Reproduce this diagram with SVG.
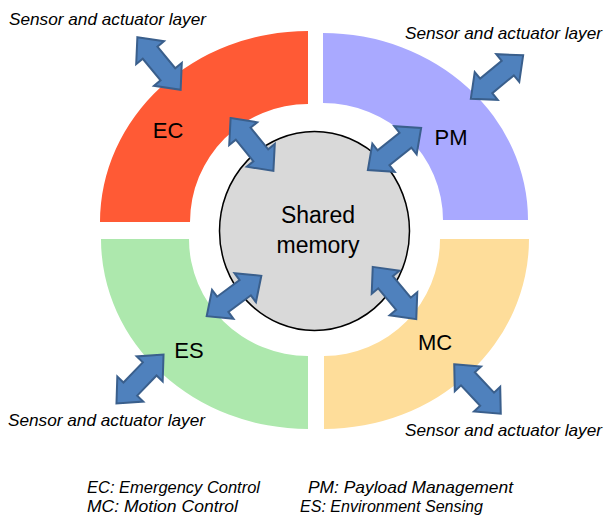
<svg xmlns="http://www.w3.org/2000/svg" xmlns:xlink="http://www.w3.org/1999/xlink" width="606" height="517" viewBox="0 0 606 517">
  <style>
    .label { font-family: "Liberation Sans", Arial, sans-serif; font-size: 22px; fill: #000; text-anchor: middle; }
    .layer { font-family: "Liberation Sans", Arial, sans-serif; font-size: 17px; font-style: italic; fill: #000; }
    .legend { font-family: "Liberation Sans", Arial, sans-serif; font-size: 16.5px; font-style: italic; fill: #000; }
    .arrow { fill: #4F81BD; stroke: #3A5F8C; stroke-width: 2; stroke-linejoin: miter; }
  </style>
  <defs>
    <!-- double-headed block arrow, centred on the origin, pointing along x -->
    <path id="dblArrow" d="M -34,0 L -14,-18 L -14,-9.5 L 14,-9.5 L 14,-18 L 34,0 L 14,18 L 14,9.5 L -14,9.5 L -14,18 Z"/>
  </defs>
  <rect width="606" height="517" fill="#FFFFFF"/>

  <!-- quarter ring segments -->
  <g id="node-EC">
    <path d="M 100,222 A 208 191 0 0 1 308,31 L 308,104 A 118 118 0 0 0 190,222 Z" fill="#FF5A35"/>
    <text class="label" x="168" y="138">EC</text>
  </g>
  <g id="node-PM">
    <path d="M 323,33 A 205 187 0 0 1 528,220 L 443,220 A 120 117 0 0 0 323,103 Z" fill="#A9A9FF"/>
    <text class="label" x="451" y="145">PM</text>
  </g>
  <g id="node-ES">
    <path d="M 101,239 A 207 190 0 0 0 308,429 L 308,356 A 119 117 0 0 1 189,239 Z" fill="#ADE8AD"/>
    <text class="label" x="189" y="358">ES</text>
  </g>
  <g id="node-MC">
    <path d="M 529,239 A 205 190 0 0 1 324,429 L 324,356 A 116 117 0 0 0 440,239 Z" fill="#FEDD9A"/>
    <text class="label" x="435" y="350">MC</text>
  </g>

  <!-- central shared memory -->
  <g id="node-shared-memory">
    <ellipse cx="314.5" cy="231" rx="95" ry="99.5" fill="#D9D9D9" stroke="#000" stroke-width="1.5"/>
    <text class="label" x="318" y="223" style="font-size:23px">Shared</text>
    <text class="label" x="318" y="253" style="font-size:23px">memory</text>
  </g>

  <!-- sensor and actuator layer labels -->
  <g id="node-sensor-layer">
    <text class="layer" x="9" y="25" textLength="197" lengthAdjust="spacingAndGlyphs">Sensor and actuator layer</text>
    <text class="layer" x="405" y="39" textLength="197" lengthAdjust="spacingAndGlyphs">Sensor and actuator layer</text>
    <text class="layer" x="8" y="426" textLength="197" lengthAdjust="spacingAndGlyphs">Sensor and actuator layer</text>
    <text class="layer" x="405" y="436" textLength="197" lengthAdjust="spacingAndGlyphs">Sensor and actuator layer</text>
  </g>

  <!-- connectors -->
  <g id="connectors" class="arrow">
    <use xlink:href="#dblArrow" transform="translate(159,63.5) rotate(50.5)"/>
    <use xlink:href="#dblArrow" transform="translate(252,144.5) rotate(51)"/>
    <use xlink:href="#dblArrow" transform="translate(497,77) rotate(-39.7)"/>
    <use xlink:href="#dblArrow" transform="translate(394.5,149) rotate(-38.4)"/>
    <use xlink:href="#dblArrow" transform="translate(234,296) rotate(-36.5)"/>
    <use xlink:href="#dblArrow" transform="translate(140,379) rotate(-46.2)"/>
    <use xlink:href="#dblArrow" transform="translate(394.5,293) rotate(50.2)"/>
    <use xlink:href="#dblArrow" transform="translate(477.5,389) rotate(46.8)"/>
  </g>

  <!-- legend -->
  <g id="legend">
    <text class="legend" x="87" y="493" textLength="173" lengthAdjust="spacingAndGlyphs">EC: Emergency Control</text>
    <text class="legend" x="308" y="493" textLength="205" lengthAdjust="spacingAndGlyphs">PM: Payload Management</text>
    <text class="legend" x="87" y="512" textLength="151" lengthAdjust="spacingAndGlyphs">MC: Motion Control</text>
    <text class="legend" x="300" y="512" textLength="183" lengthAdjust="spacingAndGlyphs">ES: Environment Sensing</text>
  </g>
</svg>
